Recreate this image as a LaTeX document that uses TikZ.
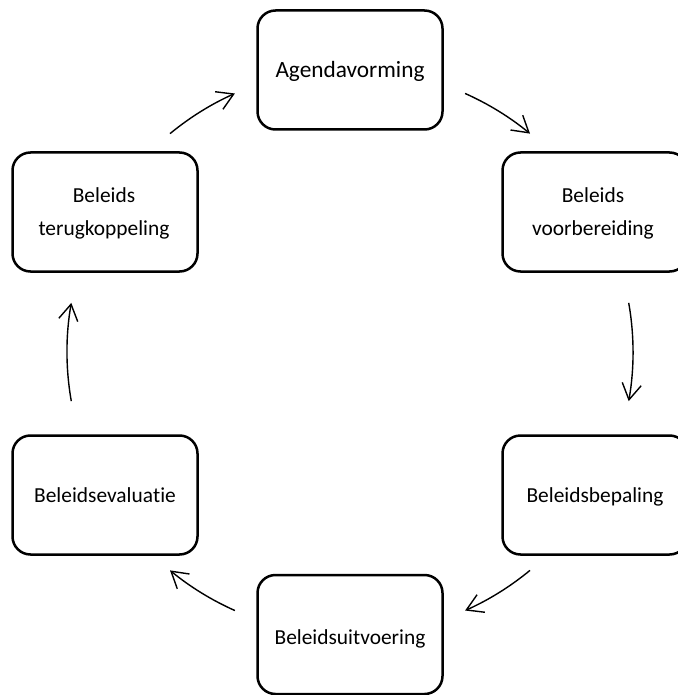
\documentclass[tikz,border=0pt]{standalone}
\usepackage{fontspec}
\setmainfont{Carlito}[Ligatures={NoCommon,NoContextual,NoRare}]
\usetikzlibrary{arrows.meta,calc}
\begin{document}
\begin{tikzpicture}[x=0.5pt,y=0.5pt,
  stage/.style={draw=black, line width=1.25pt, rounded corners=9pt,
    minimum width=92.5pt, minimum height=59.5pt, inner sep=0pt, outer sep=0pt},
  caption/.style={anchor=base, inner sep=0pt, font=\fontsize{10.7pt}{16pt}\selectfont},
  bigcaption/.style={anchor=base, inner sep=0pt, font=\fontsize{11.65pt}{16pt}\selectfont},
  flow/.style={line width=0.7pt, -{Straight Barb[length=8pt,width=9.6pt]}}
]
\useasboundingbox (0,0) rectangle (677,-695);

% the six stages of the policy cycle
\node[stage] (agenda)   at (350,-70)    {};
\node[stage] (prep)     at (595,-212)   {};
\node[stage] (decide)   at (595,-495)   {};
\node[stage] (exec)     at (350,-634.5) {};
\node[stage] (eval)     at (105,-495)   {};
\node[stage] (feedback) at (105,-212)   {};

% stage captions
\node[bigcaption] (agendaT)    at (350,-78)  {Agendavorming};
\node[caption]    (prepT1)     at (593,-203) {Beleids};
\node[caption]    (prepT2)     at (593,-235) {voorbereiding};
\node[caption]    (decideT)    at (595,-502) {Beleidsbepaling};
\node[caption]    (execT)      at (350,-644) {Beleidsuitvoering};
\node[caption]    (evalT)      at (105,-502) {Beleidsevalua\kern0pt tie};
\node[caption]    (feedbackT1) at (104,-203) {Beleids};
\node[caption]    (feedbackT2) at (104,-235) {terugkoppeling};

% curved arrows on a common circle around the cycle
\coordinate (O) at (350,-352);
\coordinate (ab) at ($(O)+(66:141.5pt)$);
\coordinate (bc) at ($(O)+(10:141.5pt)$);
\coordinate (cd) at ($(O)+(-50.5:141.5pt)$);
\coordinate (de) at ($(O)+(-114:141.5pt)$);
\coordinate (ef) at ($(O)+(190:141.5pt)$);
\coordinate (fa) at ($(O)+(129.5:141.5pt)$);

\draw[flow] (ab) arc[start angle=66,    end angle=50.5,   radius=141.5pt];
\draw[flow] (bc) arc[start angle=10,    end angle=-10,    radius=141.5pt];
\draw[flow] (cd) arc[start angle=-50.5, end angle=-66,    radius=141.5pt];
\draw[flow] (de) arc[start angle=-114,  end angle=-129.5, radius=141.5pt];
\draw[flow] (ef) arc[start angle=190,   end angle=170,    radius=141.5pt];
\draw[flow] (fa) arc[start angle=129.5, end angle=114,    radius=141.5pt];
\end{tikzpicture}
\end{document}
